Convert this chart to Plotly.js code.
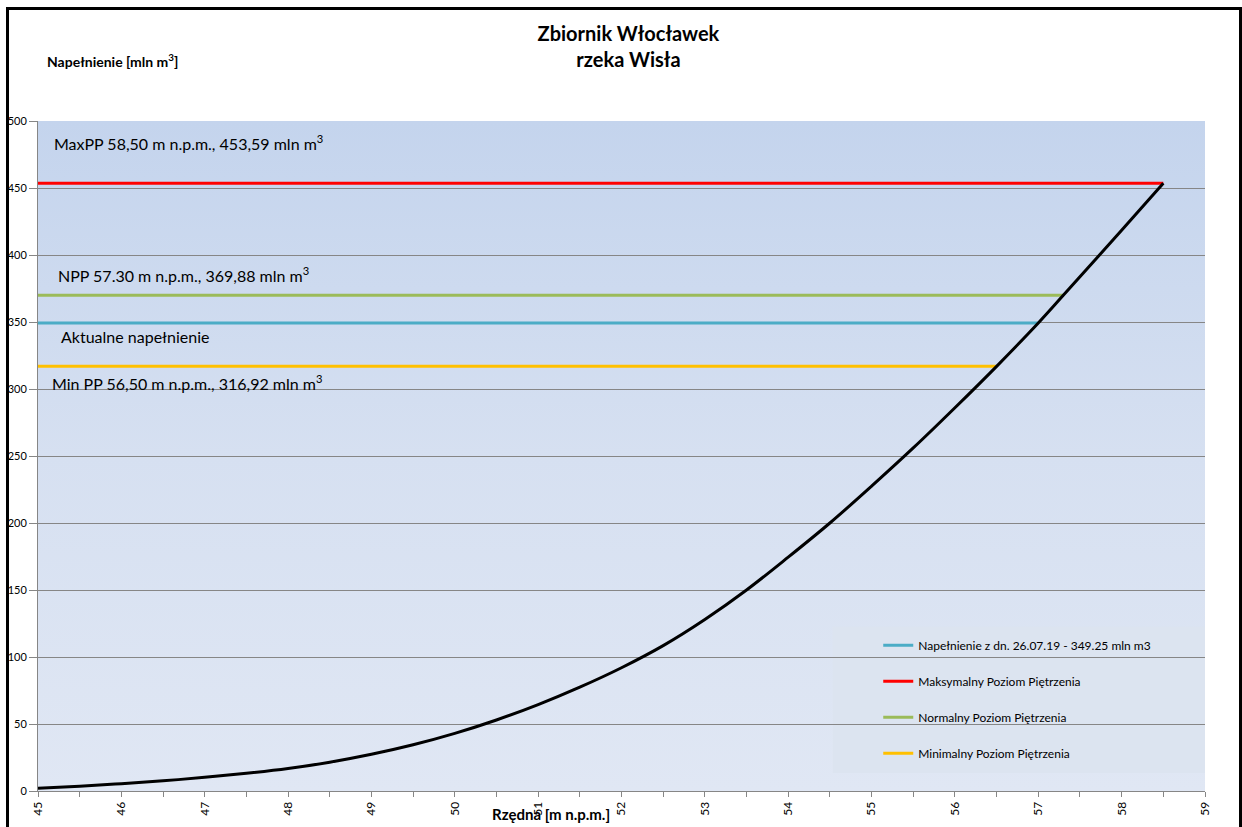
<!DOCTYPE html>
<html>
<head>
<meta charset="utf-8">
<script src="https://cdn.plot.ly/plotly-3.0.1.min.js"></script>
<style>
  html, body { margin: 0; padding: 0; background: #ffffff; }
  #wrap { width: 1242px; height: 827px; position: relative; overflow: hidden; }
  #bg { position: absolute; left: 38px; top: 121px; width: 1167px; height: 670px;
        background: linear-gradient(to bottom, rgb(196,212,237) 0%, rgb(214,224,241) 50%, rgb(224,231,244) 100%); z-index: 0; }
  #chart { width: 1242px; height: 827px; position: absolute; left: 0; top: 0; z-index: 1; }
  #frame { position: absolute; left: 6px; top: 7px; width: 1230px; height: 840px; border: 3px solid #000; pointer-events: none; z-index: 2; }
</style>
</head>
<body>
<div id="wrap">
<div id="bg"></div>
<div id="chart"></div>
<div id="frame"></div>
</div>
<script>
// Curve: reservoir volume [mln m3] vs water level [m n.p.m.]
const rzedna = [45, 45.5, 46, 46.5, 47, 47.5, 48, 48.5, 49, 49.5, 50, 50.5, 51, 51.5, 52, 52.5, 53, 53.5, 54, 54.5, 55, 55.5, 56, 56.5, 57, 57.3, 58, 58.5];
const napelnienie = [2, 3.6, 5.5, 7.6, 10.2, 13.2, 16.8, 21.5, 27.4, 34.5, 43, 53, 64.5, 77.5, 92, 108.5, 128, 150, 174.5, 200, 227.5, 256, 286, 316.92, 349.25, 369.88, 418.5, 453.59];

// Reference levels
const levelNames = ['Napełnienie z dn. 26.07.19 - 349.25 mln m3', 'Maksymalny Poziom Piętrzenia', 'Normalny Poziom Piętrzenia', 'Minimalny Poziom Piętrzenia'];
const levelValues = [349.25, 453.59, 369.88, 316.92];
const levelEndX = [57.0, 58.5, 57.3, 56.5];
const levelStartX = 45;
const levelColors = ['#4bacc6', '#ff0000', '#9bbb59', '#ffc000'];

const levelLabels = ['Aktualne napełnienie', 'MaxPP 58,50 m n.p.m., 453,59 mln m<sup>3</sup>', 'NPP 57.30 m n.p.m., 369,88 mln m<sup>3</sup>', 'Min PP 56,50 m n.p.m., 316,92 mln m<sup>3</sup>'];

const xTickVals = [45, 46, 47, 48, 49, 50, 51, 52, 53, 54, 55, 56, 57, 58, 59];
const yTickVals = [0, 50, 100, 150, 200, 250, 300, 350, 400, 450, 500];

const FONT = 'Lato, "Noto Sans", sans-serif';

const traces = [];
for (let i = 0; i < levelValues.length; i++) {
  traces.push({
    type: 'scatter', mode: 'lines',
    x: [levelStartX, levelEndX[i]],
    y: [levelValues[i], levelValues[i]],
    name: levelNames[i],
    legendgroup: 'g' + i,
    line: { color: levelColors[i], width: 3 },
    hoverinfo: 'skip'
  });
}
traces.push({
  type: 'scatter', mode: 'lines',
  x: rzedna, y: napelnienie,
  name: 'Krzywa',
  showlegend: false,
  line: { color: '#000000', width: 3, shape: 'spline', smoothing: 1 }
});

// legend box
const shapes = [{
  type: 'rect', xref: 'paper', yref: 'paper', layer: 'between',
  x0: 0.681, x1: 1, y0: 0.027, y1: 0.245,
  fillcolor: 'rgb(220,228,240)', line: { width: 0 }
}];

const labelPos = [
  { y: levelValues[0], dx: 59, yshift: -13 },
  { y: levelValues[1], dx: 52, yshift: 41 },
  { y: levelValues[2], dx: 56, yshift: 21 },
  { y: levelValues[3], dx: 50, yshift: -16 }
];
const annotations = levelLabels.map((t, i) => ({
  text: t, xref: 'paper', yref: 'y', x: (labelPos[i].dx - 38) / 1167, y: labelPos[i].y,
  xanchor: 'left', yanchor: 'middle', yshift: labelPos[i].yshift, showarrow: false,
  font: { family: FONT, size: 16, color: '#000' }
}));
annotations.push({
  text: '<b>Napełnienie [mln m<sup>3</sup>]</b>', xref: 'paper', yref: 'paper',
  x: (45 - 38) / 1167, y: (791 - 61) / 670, xanchor: 'left', yanchor: 'middle', showarrow: false,
  font: { family: FONT, size: 14, color: '#000' }
});
annotations.push({
  text: '<b>Rzędna [m n.p.m.]</b>', xref: 'paper', yref: 'paper',
  x: (551 - 38) / 1167, y: (791 - 814) / 670, xanchor: 'center', yanchor: 'middle', showarrow: false,
  font: { family: FONT, size: 15, color: '#000' }
});

const layout = {
  width: 1242, height: 827,
  margin: { l: 38, r: 37, t: 121, b: 36, pad: 0 },
  paper_bgcolor: 'rgba(0,0,0,0)',
  plot_bgcolor: 'rgba(0,0,0,0)',
  font: { family: FONT, size: 11, color: '#000' },
  title: {
    text: '<b>Zbiornik Włocławek</b><br><b>rzeka Wisła</b>',
    font: { family: FONT, size: 20, color: '#000' },
    x: 0.506, xanchor: 'center', y: 0.950, yanchor: 'top', yref: 'container'
  },
  xaxis: {
    range: [45, 59], tickvals: xTickVals, ticktext: xTickVals.map(String),
    tickangle: -90, ticks: 'outside', ticklen: 5, tickcolor: '#868686',
    showgrid: false, zeroline: false, showline: true, linecolor: '#868686', linewidth: 1,
    minor: { dtick: 0.5, ticks: 'outside', ticklen: 5, tickcolor: '#868686', showgrid: false },
    tickfont: { family: FONT, size: 12 }, fixedrange: true
  },
  yaxis: {
    range: [0, 500], tickvals: yTickVals, ticks: 'outside', ticklen: 8, tickcolor: '#868686',
    showgrid: true, gridcolor: '#868686', gridwidth: 1, zeroline: false,
    showline: true, linecolor: '#868686', linewidth: 1,
    tickfont: { family: FONT, size: 11 }, fixedrange: true
  },
  legend: {
    x: 0.720, xanchor: 'left', y: 0.239, yanchor: 'top',
    bgcolor: 'rgba(0,0,0,0)', borderwidth: 0,
    font: { family: FONT, size: 12, color: '#000' },
    tracegroupgap: 17, itemwidth: 30, traceorder: 'grouped'
  },
  shapes: shapes,
  annotations: annotations,
  showlegend: true
};

Plotly.newPlot('chart', traces, layout, { displayModeBar: false, staticPlot: true });
</script>
</body>
</html>
